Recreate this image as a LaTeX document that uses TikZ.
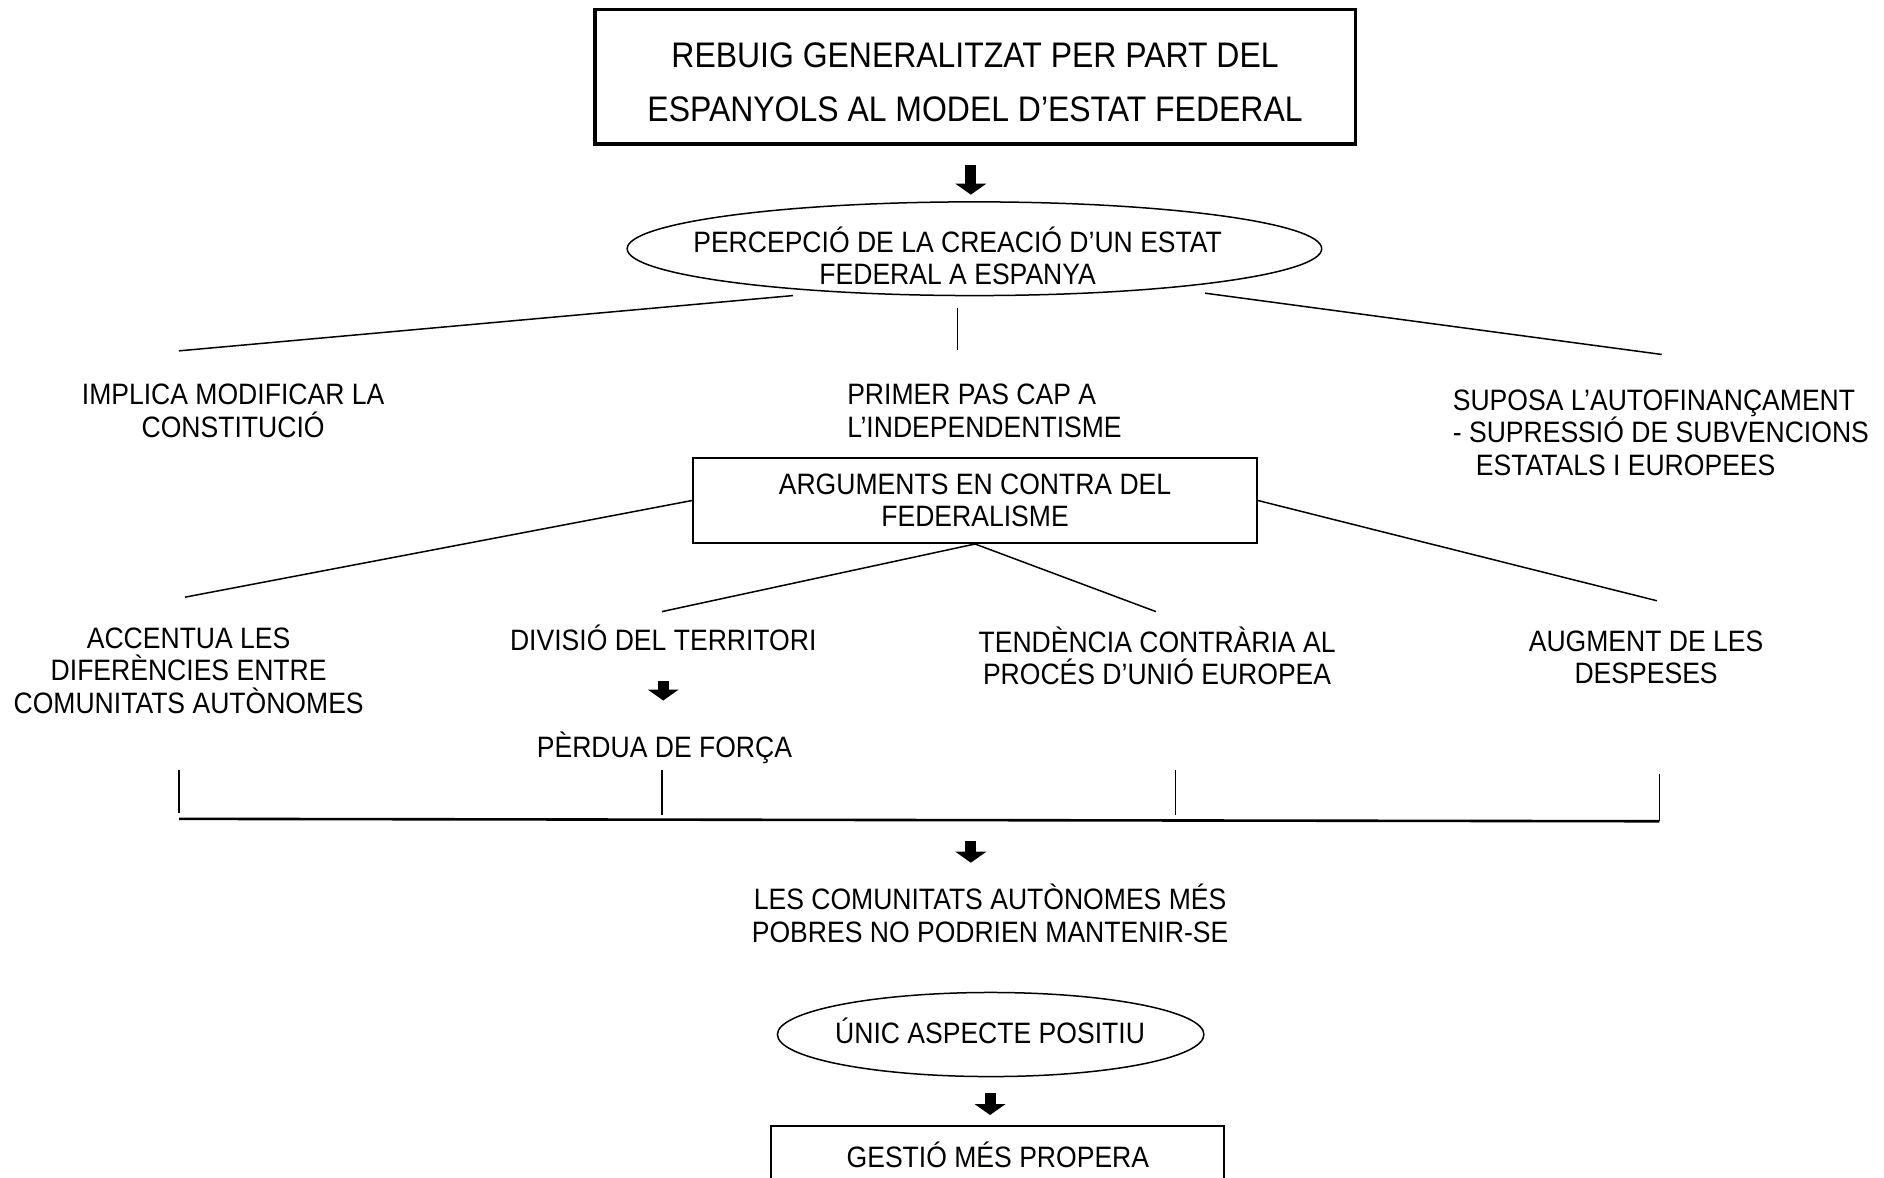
\documentclass[tikz,border=0pt]{standalone}
\usepackage{fontspec}
\setmainfont{Liberation Sans}[FakeStretch=0.9]
\usetikzlibrary{arrows.meta,shapes.geometric}
\begin{document}
\begin{tikzpicture}[x=1.2015pt,y=-1.2015pt,
  txt/.style={font=\fontsize{29.5}{32.4}\selectfont,align=center,inner sep=0pt},
  txtl/.style={font=\fontsize{29.5}{32.4}\selectfont,align=left,inner sep=0pt,anchor=west},
  toptxt/.style={font=\fontsize{35.5}{54}\selectfont,align=center,inner sep=0pt},
  rbox/.style={draw,rectangle,inner sep=0pt},
  ell/.style={draw,ellipse,inner sep=0pt,line width=1.5pt},
  ln/.style={line width=1.5pt},
  barln/.style={line width=2.6pt},
  tickln/.style={line width=1.2pt},
  blockarrow/.style={line width=11pt,-{Triangle[length=11pt,width=31pt,line width=0pt]}}]
\fill[white] (0,0) rectangle (1568,980);
\useasboundingbox (0,0) rectangle (1568,980);

% top box
\node[rbox,line width=3.6pt,minimum width=760.5pt,minimum height=134.6pt] (top) at (811.5,64) {};
\node[toptxt] (topt) at (811.5,68.5) {REBUIG GENERALITZAT PER PART DEL\\ESPANYOLS AL MODEL D’ESTAT FEDERAL};

% perception ellipse
\node[ell,minimum width=694.5pt,minimum height=93.7pt] (perc) at (811,207) {};
\node[txt] (perct) at (797,213) {PERCEPCIÓ DE LA CREACIÓ D’UN ESTAT\\FEDERAL A ESPANYA};

% first row texts
\node[txt] (implica) at (194,342) {IMPLICA MODIFICAR LA\\CONSTITUCIÓ};
\node[txtl] (primer) at (705,342) {PRIMER PAS CAP A\\L’INDEPENDENTISME};
\node[txtl] (suposa) at (1209,360) {SUPOSA L’AUTOFINANÇAMENT\\- SUPRESSIÓ DE SUBVENCIONS\\\hspace*{23pt}ESTATALS I EUROPEES};

% arguments box
\node[rbox,line width=1.8pt,minimum width=563.5pt,minimum height=85.3pt,txt] (args) at (811.5,416.5) {ARGUMENTS EN CONTRA DEL\\FEDERALISME};

% second row texts
\node[txt] (accentua) at (157,558) {ACCENTUA LES\\DIFERÈNCIES ENTRE\\COMUNITATS AUTÒNOMES};
\node[txt] (divisio) at (552,531) {DIVISIÓ DEL TERRITORI};
\node[txt] (perdua) at (553,622) {PÈRDUA DE FORÇA};
\node[txt] (tendencia) at (963,546) {TENDÈNCIA CONTRÀRIA AL\\PROCÉS D’UNIÓ EUROPEA};
\node[txt] (augment) at (1370,547) {AUGMENT DE LES\\DESPESES};

% conclusion
\node[txt] (les) at (824,760) {LES COMUNITATS AUTÒNOMES MÉS\\POBRES NO PODRIEN MANTENIR-SE};
\node[ell,minimum width=426.5pt,minimum height=84.1pt] (unic) at (824.5,861) {};
\node[txt] (unict) at (824,858) {ÚNIC ASPECTE POSITIU};
\begin{scope}
\clip (0,0) rectangle (1568,980);
\node[rbox,line width=1.8pt,minimum width=453pt,minimum height=57.7pt,txt] (gestio) at (830.5,961) {GESTIÓ MÉS PROPERA};
\end{scope}

% free ends
\coordinate (e1) at (149,292);
\coordinate (e2) at (797,291);
\coordinate (e3) at (1383,295);
\coordinate (e4) at (154,497);
\coordinate (e5) at (551,509);
\coordinate (e6) at (962,509);
\coordinate (e7) at (1379,500);
\coordinate (t1) at (149,641);
\coordinate (t2) at (551,641);
\coordinate (t3) at (978,641);
\coordinate (t4) at (1381,644);
\coordinate (b1) at (149,681.5);
\coordinate (b2) at (551,682);
\coordinate (b3) at (978,682.5);
\coordinate (b4) at (1381,683.5);
\coordinate (bm) at (808,683);

% connectors from ellipse
\draw[ln] ([shift={(-151,39)}]perc.center) -- (e1);
\draw[ln] ([shift={(-14,49)}]perc.center) -- (e2);
\draw[ln] ([shift={(192,37)}]perc.center) -- (e3);

% connectors from arguments box
\draw[ln] (args.west) -- (e4);
\draw[ln] (args.south) -- (e5);
\draw[ln] (args.south) -- (e6);
\draw[ln] (args.east) -- (e7);

% bracket
\draw[tickln] (t1) -- ([shift={(0,-5)}]b1);
\draw[tickln] (t2) -- ([shift={(0,-4)}]b2);
\draw[tickln] (t3) -- ([shift={(0,-4)}]b3);
\draw[tickln] (t4) -- (b4);
\draw[barln] (b1) -- (b4);

% block arrows
\draw[blockarrow] ([shift={(-3.5,73)}]top.center) -- ([shift={(-3,-45)}]perc.center);
\draw[blockarrow] ([shift={(0,36)}]divisio.center) -- ([shift={(-1,-39)}]perdua.center);
\draw[blockarrow] ([shift={(0,17)}]bm) -- ([shift={(-16,-42)}]les.center);
\draw[blockarrow] ([shift={(-0.5,49)}]unic.center) -- ([shift={(-6.5,-33)}]gestio.center);
\end{tikzpicture}
\end{document}
